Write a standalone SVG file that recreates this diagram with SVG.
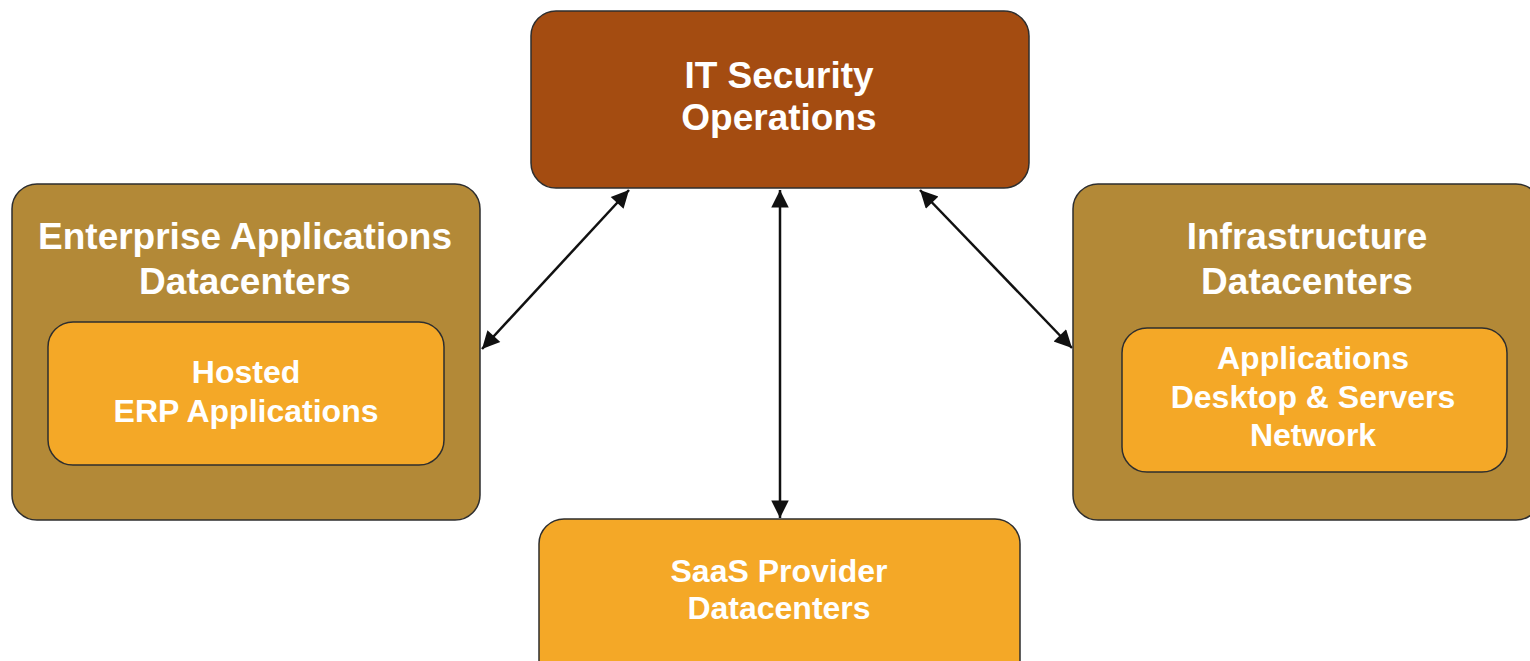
<svg xmlns="http://www.w3.org/2000/svg" width="1530" height="661" viewBox="0 0 1530 661">
<style>
.box{stroke:#2e2e2e;stroke-width:1.5}
.sec{fill:#A44C11}
.dc{fill:#B38937}
.inner{fill:#F4A827}
.t{font-family:"Liberation Sans",Arial,sans-serif;font-weight:bold;fill:#ffffff;text-anchor:middle}
.big{font-size:37px}
.small{font-size:32px}
.conn{stroke:#111;stroke-width:2.5;fill:none;marker-start:url(#ah);marker-end:url(#ah)}
</style>
<defs>
<marker id="ah" viewBox="0 0 10 10" refX="10" refY="5" markerWidth="8.5" markerHeight="7" orient="auto-start-reverse" markerUnits="strokeWidth">
<path d="M0,0 L10,5 L0,10 Z" fill="#111"/>
</marker>
</defs>
<g id="connectors">
<line class="conn" x1="482" y1="349" x2="629" y2="190"/>
<line class="conn" x1="780" y1="190" x2="780" y2="518"/>
<line class="conn" x1="920" y1="190" x2="1072" y2="348"/>
</g>
<g id="it-security">
<rect class="box sec" x="531" y="11" width="498" height="177" rx="25"/>
<text class="t big" x="779" y="88">IT Security</text>
<text class="t big" x="779" y="130">Operations</text>
</g>
<g id="enterprise">
<rect class="box dc" x="12" y="184" width="468" height="336" rx="25"/>
<text class="t big" x="245" y="249">Enterprise Applications</text>
<text class="t big" x="245" y="294">Datacenters</text>
</g>
<g id="hosted-erp">
<rect class="box inner" x="48" y="322" width="396" height="143" rx="25"/>
<text class="t small" x="246" y="383">Hosted</text>
<text class="t small" x="246" y="422">ERP Applications</text>
</g>
<g id="infrastructure">
<rect class="box dc" x="1073" y="184" width="468" height="336" rx="25"/>
<text class="t big" x="1307" y="249">Infrastructure</text>
<text class="t big" x="1307" y="294">Datacenters</text>
</g>
<g id="apps-desktop-network">
<rect class="box inner" x="1122" y="328" width="385" height="144" rx="25"/>
<text class="t small" x="1313" y="369">Applications</text>
<text class="t small" x="1313" y="408">Desktop &amp; Servers</text>
<text class="t small" x="1313" y="446">Network</text>
</g>
<g id="saas">
<rect class="box inner" x="539" y="519" width="481" height="170" rx="25"/>
<text class="t small" x="779" y="582">SaaS Provider</text>
<text class="t small" x="779" y="619">Datacenters</text>
</g>
</svg>
